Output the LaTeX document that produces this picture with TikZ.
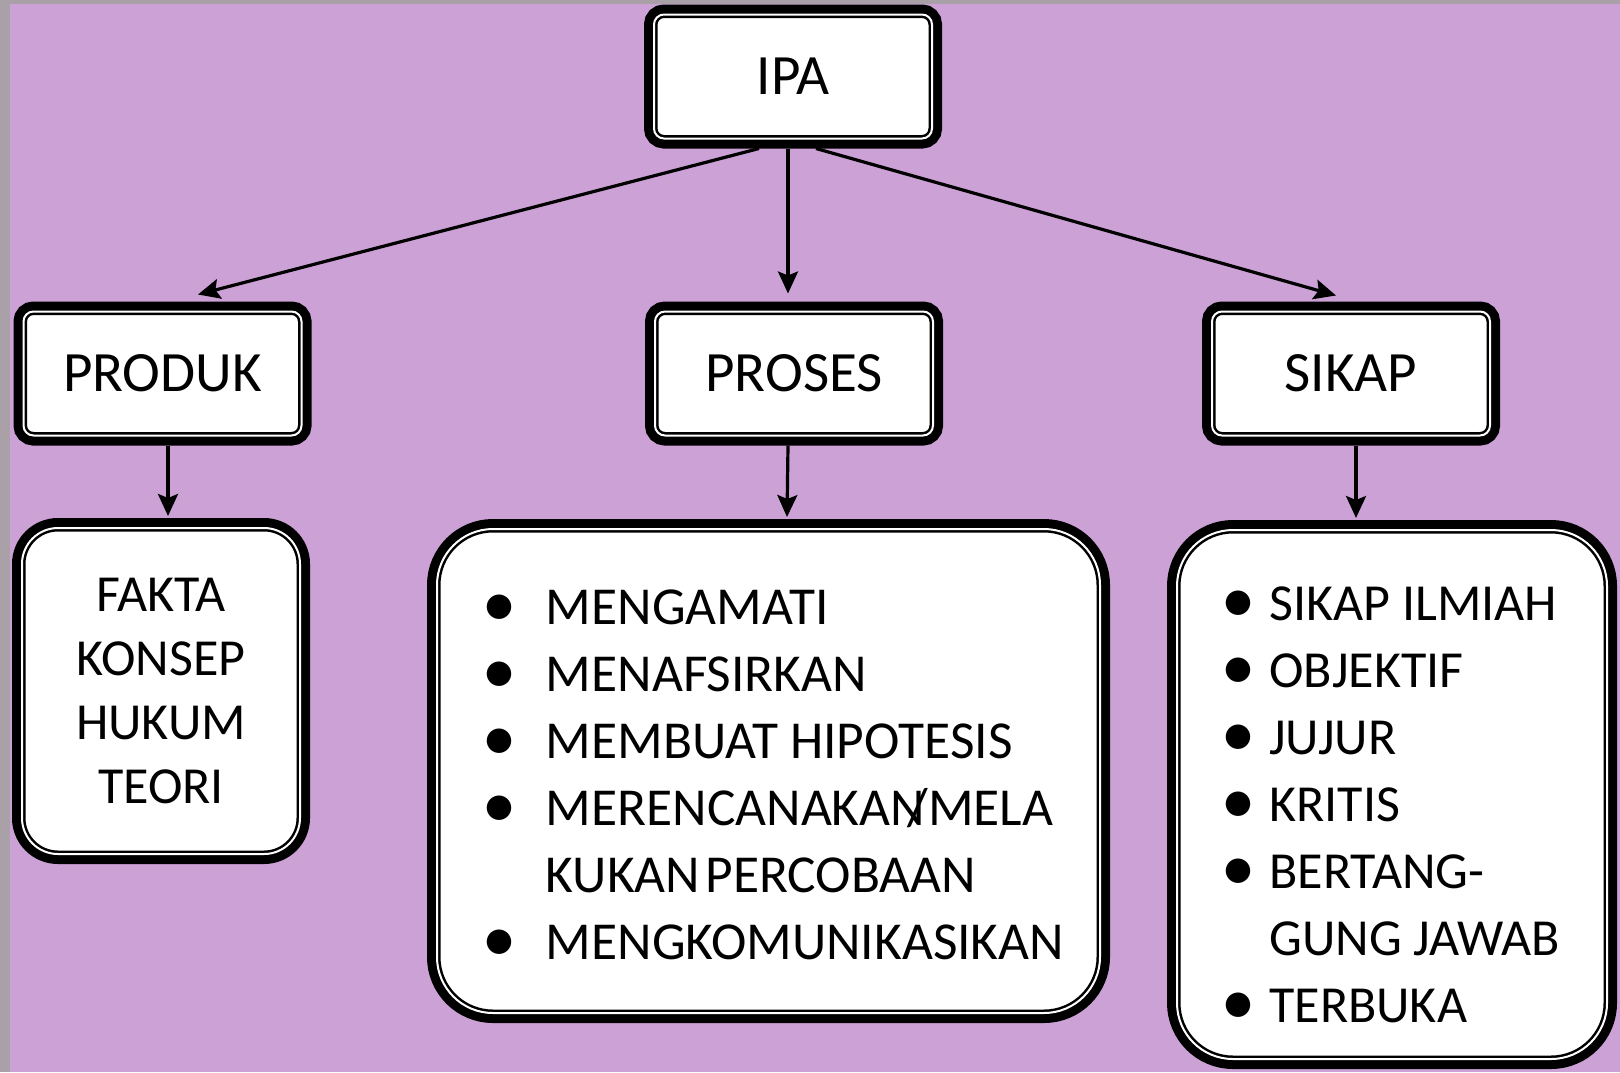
\documentclass[tikz,border=0pt]{standalone}
\usepackage{fontspec}
\setmainfont{Carlito}
\newfontfamily\symfont{DejaVu Sans}
\usetikzlibrary{arrows.meta}

\definecolor{lilac}{RGB}{204,162,214}
\definecolor{framegray}{RGB}{170,160,168}

% bullet and list lines
\newcommand{\blt}{\raisebox{4.5pt}{\symfont\fontsize{16pt}{16pt}\selectfont ●}}
\newcommand{\pitem}[1]{\makebox[31pt][l]{\hspace{1pt}\blt}#1}
\newcommand{\sitem}[1]{\makebox[22.5pt][l]{\blt}#1}

\begin{document}
\begin{tikzpicture}[x=0.5pt, y=-0.5pt,
    box/.style={draw=black, line width=1.25pt, double=white, double distance=1pt,
      fill=white, preaction={draw=black, line width=10pt}, outer sep=5pt},
    head/.style={box, rounded corners=5pt, minimum width=139pt, minimum height=62pt,
      font=\fontsize{28.5}{34}\selectfont},
    list/.style={box, rounded corners=28pt, align=left,
      font=\fontsize{26.7}{33.5}\selectfont},
    arr/.style={-{Stealth[length=11pt,width=10pt,inset=2pt]}, line width=1.6pt}]
    \useasboundingbox (0,0) rectangle (1620,1072);
    % Draw background
    \fill[lilac] (0,0) rectangle (1620,1072);
    \fill[framegray] (0,0) rectangle (10,1072);
    \fill[framegray] (0,0) rectangle (1620,4);

    % Draw the boxes
    \node[head] (ipa) at (793,76.5) {IPA};
    \node[head] (produk) at (162.5,373.5) {PRODUK};
    \node[head] (proses) at (794,373.5) {PROSES};
    \node[head] (sikap) at (1351,373.5) {SIKAP};

    \node[list, rounded corners=18pt, align=center, minimum width=139pt,
      minimum height=163pt, font=\fontsize{26}{32}\selectfont]
      (fakta) at (161,691) {FAKTA\\KONSEP\\HUKUM\\TEORI};
    \node[list, minimum width=331.5pt, minimum height=242pt] (langkah) at (768.5,771)
      {\rule{0pt}{21pt}\pitem{MENGAMATI}\\
       \pitem{MENAFSIRKAN}\\
       \pitem{MEMBUAT HIPOTESIS}\\
       \pitem{MERENCANAKAN\kern-0.33em/MELA}\\
       \makebox[31pt]{}KUKAN\hspace{0.1em}PERCOBAAN\\
       \pitem{MENGKOMUNIKASIKAN}\kern-5.5pt};
    \node[list, minimum width=215pt, minimum height=264.5pt,
      font=\fontsize{26}{33.5}\selectfont] (ciri) at (1392,794.5)
      {\rule{0pt}{27pt}\sitem{SIKAP ILMIAH}\\
       \sitem{OBJEKTIF}\\
       \sitem{JUJUR}\\
       \sitem{KRITIS}\\
       \sitem{BERTANG-}\\
       \makebox[22.5pt]{}GUNG JAWAB\\
       \sitem{TERBUKA}};

    % Draw the arrows
    \draw[arr] ([xshift=-17pt]ipa.south) -- ([xshift=17.75pt,yshift=3.5pt]produk.north);
    \draw[arr] ([xshift=-2.5pt]ipa.south) -- ([xshift=-3pt,yshift=4pt]proses.north);
    \draw[arr] ([xshift=11.5pt]ipa.south) -- ([xshift=-7.5pt,yshift=3pt]sikap.north);
    \draw[arr] ([xshift=2.75pt]produk.south) -- ([xshift=3.5pt,yshift=1pt]fakta.north);
    \draw[arr] ([xshift=-3pt]proses.south) -- ([xshift=9.25pt,yshift=1pt]langkah.north);
    \draw[arr] ([xshift=2.5pt]sikap.south) -- ([xshift=-18pt,yshift=1pt]ciri.north);
  \end{tikzpicture}
\end{document}
